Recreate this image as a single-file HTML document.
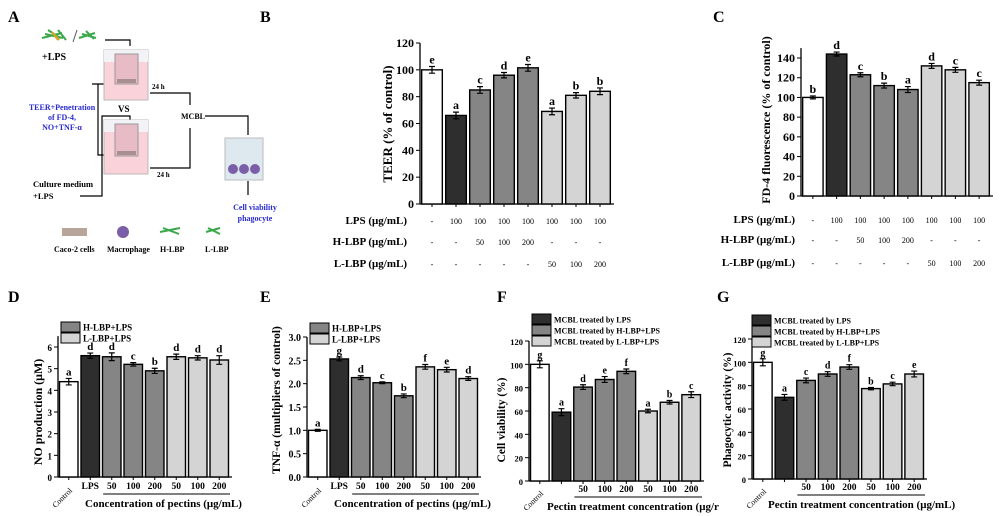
<!DOCTYPE html>
<html><head><meta charset="utf-8">
<style>
html,body{margin:0;padding:0;background:#fff;}
svg{display:block;font-family:"Liberation Serif",serif;font-weight:bold;}
</style></head>
<body>
<svg id="fig" width="1000" height="516" viewBox="0 0 1000 516" xmlns="http://www.w3.org/2000/svg">
<g>
<text x="8" y="22" font-size="16">A</text>
<g stroke-width="2" fill="none">
<path d="M42 38 l20 -5 M45 34 l18 4 M48 30 l12 8 M58 30 l8 10" stroke="#3aa84a"/>
<path d="M52 32 l6 8 M55 35 l4 5" stroke="#d9a62a"/>
<path d="M79 38 l16 -5 M82 34 l14 4 M86 31 l8 8" stroke="#3aa84a"/>
<line x1="73" y1="42" x2="77" y2="30" stroke="#555" stroke-width="1"/>
</g>
<text x="42" y="60" font-size="10">+LPS</text>
<g stroke="#000" stroke-width="1.2" fill="none">
<path d="M105 40 H130 V46"/><path d="M150 93 H190 V105"/><path d="M150 168 H190 V128"/>
<path d="M98 84 V155 H117 M98 84 H117 M98 84 H92"/>
<path d="M80 196 H102 V116 H130 V122"/>
<path d="M205 116 H248 V135"/><path d="M248 181 V195"/>
</g>
<g>
<rect x="104" y="50" width="44" height="50" fill="#f9d2da" stroke="#bbb"/>
<rect x="104" y="50" width="44" height="12" fill="#f3f3f7"/>
<rect x="115" y="54" width="23" height="30" fill="#e8bcc6" stroke="#999"/>
<rect x="117" y="79" width="19" height="4" fill="#a89090"/>
</g>
<text x="118" y="112" font-size="9">VS</text>
<g>
<rect x="104" y="120" width="44" height="54" fill="#f9d2da" stroke="#bbb"/>
<rect x="104" y="120" width="44" height="12" fill="#f3f3f7"/>
<rect x="115" y="124" width="23" height="32" fill="#e8bcc6" stroke="#999"/>
<rect x="117" y="151" width="19" height="4" fill="#a89090"/>
</g>
<text x="152" y="89" font-size="7">24 h</text>
<text x="157" y="177" font-size="7">24 h</text>
<text x="181" y="119" font-size="8">MCBL</text>
<g>
<rect x="225" y="138" width="38" height="42" fill="#dde8ef" stroke="#bbb"/>
<circle cx="233" cy="169" r="5" fill="#7a5ea8"/><circle cx="244" cy="169" r="5" fill="#7a5ea8"/><circle cx="255" cy="169" r="5" fill="#7a5ea8"/>
</g>
<g fill="#2a2ad0" font-size="8" text-anchor="middle">
<text x="62" y="110">TEER+Penetration</text><text x="62" y="120">of FD-4,</text><text x="62" y="130">NO+TNF-α</text>
<text x="255" y="210">Cell viability</text><text x="255" y="221">phagocyte</text>
</g>
<text x="33" y="187" font-size="8.5">Culture medium</text><text x="33" y="199" font-size="8.5">+LPS</text>
<g font-size="8">
<rect x="62" y="228" width="25" height="8" fill="#b8a59a"/><text x="54" y="252">Caco-2 cells</text>
<circle cx="123" cy="232" r="6" fill="#7a5ea8"/><text x="107" y="252">Macrophage</text>
<path d="M160 232 l20 -4 M163 228 l16 6" stroke="#3aa84a" stroke-width="2"/><text x="160" y="252">H-LBP</text>
<path d="M206 232 l14 -4 M208 228 l12 6" stroke="#3aa84a" stroke-width="2"/><text x="205" y="252">L-LBP</text>
</g>
</g>
<g id="charts"></g>
</svg>
<script>
// ---- data ----
const bValues=[100,66,85,96,101.5,69,81,84];
const bErr=[2.5,2.5,2.5,2,2.5,2.5,2,2.5];
const bLetters=['e','a','c','d','e','a','b','b'];
const cValues=[100,144,123,112,108,132,128,115];
const cErr=[1.5,2,2,2.5,3,2.5,2.5,2.5];
const cLetters=['b','d','c','b','a','d','c','c'];
const lpsRow=['-','100','100','100','100','100','100','100'];
const hlbpRow=['-','-','50','100','200','-','-','-'];
const llbpRow=['-','-','-','-','-','50','100','200'];
const dValues=[4.4,5.6,5.55,5.2,4.9,5.55,5.5,5.4];
const dErr=[0.15,0.12,0.18,0.08,0.12,0.12,0.1,0.2];
const dLetters=['a','d','d','c','b','d','d','d'];
const eValues=[1.0,2.53,2.13,2.02,1.74,2.36,2.3,2.11];
const eErr=[0.02,0.04,0.04,0.02,0.04,0.05,0.05,0.04];
const eLetters=['a','g','d','c','b','f','e','d'];
const deCats=['Control','LPS','50','100','200','50','100','200'];
const fValues=[100,59,80.5,87,94,60,67.5,74];
const fErr=[3,3,2,2.5,2,1.5,1.5,2.5];
const fLetters=['g','a','d','e','f','a','b','c'];
const gValues=[100,70,84.5,90,96,77.5,81.5,90];
const gErr=[3,2.5,2,2,2,1,1.5,2.5];
const gLetters=['g','a','c','d','f','b','c','e'];
const fgCats=['Control','','50','100','200','50','100','200'];
const bTicks=[0,20,40,60,80,100,120];
const cTicks=[0,20,40,60,80,100,120,140];
const dTicks=[0,1,2,3,4,5,6];
const eTicks=[0,0.5,1.0,1.5,2.0,2.5,3.0];
const fgTicks=[0,20,40,60,80,100,120];

const fills=['#ffffff','#2e2e2e','#858585','#858585','#858585','#d4d4d4','#d4d4d4','#d4d4d4'];
const NS='http://www.w3.org/2000/svg';
const root=document.getElementById('charts');
function mk(tag,attrs,parent,text){const e=document.createElementNS(NS,tag);for(const k in attrs)e.setAttribute(k,attrs[k]);if(text!==undefined)e.textContent=text;(parent||root).appendChild(e);return e;}

function chart(p){
  const g=mk('g',{});
  
  
  const band=(p.x1-p.x0)/p.values.length;
  const xs=i=>p.x0+band*(i+0.5);
  const ys=v=>p.y0-(v-0)/(p.vRef)*(p.y0-p.yRef);
  const lab=mk('text',{x:p.lx,y:p.ly,'font-size':16},g,p.label);
  
  
  const top=ys(p.axisMax);
  mk('line',{x1:p.x0,y1:top,x2:p.x0,y2:p.y0,stroke:'#000','stroke-width':1.3},g);
  mk('line',{x1:p.x0,y1:p.y0,x2:p.x1+2,y2:p.y0,stroke:'#000','stroke-width':1.3},g);
  p.ticks.forEach(t=>{
    const y=ys(t);
    mk('line',{x1:p.x0-4,y1:y,x2:p.x0,y2:y,stroke:'#000'},g);
    const tt=mk('text',{x:p.x0-6,y:y+4,'font-size':p.tfs,'text-anchor':'end'},g,p.fmt?t.toFixed(1):String(t));
    
    
  });
  const yt=mk('text',{transform:`translate(${p.ytx},${p.yty}) rotate(-90)`,'font-size':p.ytfs,'text-anchor':'middle'},g,p.ytitle);
  
  
  const bw=band*0.86;
  p.values.forEach((v,i)=>{
    const r=mk('rect',{x:xs(i)-bw/2,y:ys(v),width:bw,height:p.y0-ys(v),fill:fills[i],stroke:'#000','stroke-width':1.4},g);
    
    
    const e=p.err[i],yh=ys(v+e),yl=ys(v-e);
    mk('path',{d:`M${xs(i)} ${yh}V${yl}M${xs(i)-3} ${yh}H${xs(i)+3}M${xs(i)-3} ${yl}H${xs(i)+3}`,stroke:'#000','stroke-width':1.2,fill:'none'},g);
    const l=mk('text',{x:xs(i),y:yh-3,'font-size':p.lfs,'text-anchor':'middle'},g,p.letters[i]);
    
    
    mk('line',{x1:xs(i),y1:p.y0,x2:xs(i),y2:p.y0+3,stroke:'#000'},g);
  });
  if(p.rows){
    p.rows.forEach((row,r)=>{
      const y=p.rowY[r];
      const t=mk('text',{x:p.rowLabelX,y:y,'font-size':11,'text-anchor':'end'},g,p.rowNames[r]);
      
      
      row.forEach((s,i)=>{mk('text',{x:xs(i),y:y,'font-size':8,'font-weight':'normal','text-anchor':'middle'},g,s);});
    });
  }
  if(p.cats){
    p.cats.forEach((c,i)=>{
      if(i===0){mk('text',{transform:`translate(${xs(i)+4},${p.catY+2}) rotate(-45)`,'font-size':8,'font-weight':'normal','text-anchor':'end'},g,c);}
      else mk('text',{x:xs(i),y:p.catY,'font-size':9.5,'text-anchor':'middle'},g,c);
    });
    mk('line',{x1:xs(p.lineFrom)-band*0.4,y1:p.catY+5,x2:p.x1,y2:p.catY+5,stroke:'#000'},g);
    const xt=mk('text',{x:p.xtX,y:p.catY+18,'font-size':11},g,p.xtitle);
    
    
  }
  if(p.legend){
    p.legend.forEach((L,k)=>{
      const y=p.legY+k*p.legStep;
      const lg=mk('g',{},g);
      
      
      mk('rect',{x:p.legX,y:y,width:19,height:p.legStep-1,fill:L[0],stroke:'#000'},lg);
      mk('text',{x:p.legX+22,y:y+p.legStep-2.5,'font-size':p.legfs},lg,L[1]);
    });
  }
}
const rowNames=['LPS (μg/mL)','H-LBP (μg/mL)','L-LBP (μg/mL)'];
chart({name:'panel-b-teer-chart',label:'B',lx:260,ly:22,values:bValues,err:bErr,letters:bLetters,x0:420,x1:612,y0:204,vRef:120,yRef:43,axisMax:120,ticks:bTicks,tfs:12,ytitle:'TEER (% of control)',ytx:392,yty:124,ytfs:13,lfs:12,rows:[lpsRow,hlbpRow,llbpRow],rowY:[224,245,267],rowLabelX:407,rowNames});
chart({name:'panel-c-fd4-chart',label:'C',lx:713,ly:22,values:cValues,err:cErr,letters:cLetters,x0:801,x1:991,y0:196,vRef:140,yRef:58,axisMax:150,ticks:cTicks,tfs:12,ytitle:'FD-4 fluorescence (% of control)',ytx:770,yty:120,ytfs:12,lfs:12,rows:[lpsRow,hlbpRow,llbpRow],rowY:[223,243,266],rowLabelX:795,rowNames});
chart({name:'panel-d-no-chart',label:'D',lx:8,ly:302,values:dValues,err:dErr,letters:dLetters,x0:58,x1:230,y0:477,vRef:6,yRef:347,axisMax:6.5,ticks:dTicks,tfs:9,ytitle:'NO production (μM)',ytx:42,yty:412,ytfs:12,lfs:11,cats:deCats,catY:489,lineFrom:2,xtX:85,xtitle:'Concentration of pectins (μg/mL)',legend:[['#858585','H-LBP+LPS'],['#d4d4d4','L-LBP+LPS']],legX:61,legY:322,legStep:11,legfs:9});
chart({name:'panel-e-tnf-chart',label:'E',lx:260,ly:302,values:eValues,err:eErr,letters:eLetters,x0:307,x1:479,y0:477,vRef:3,yRef:337,axisMax:3,ticks:eTicks,tfs:10,fmt:true,ytitle:'TNF-α (multipliers of control)',ytx:280,yty:400,ytfs:11.5,lfs:11,cats:deCats,catY:489,lineFrom:2,xtX:334,xtitle:'Concentration of pectins (μg/mL)',legend:[['#858585','H-LBP+LPS'],['#d4d4d4','L-LBP+LPS']],legX:310,legY:323,legStep:11,legfs:9});
chart({name:'panel-f-viability-chart',label:'F',lx:497,ly:302,values:fValues,err:fErr,letters:fLetters,x0:529,x1:702,y0:481,vRef:120,yRef:341,axisMax:120,ticks:fgTicks,tfs:8.5,ytitle:'Cell viability (%)',ytx:505,yty:420,ytfs:11.5,lfs:10,cats:fgCats,catY:492,lineFrom:2,xtX:547,xtitle:'Pectin treatment concentration (μg/r',legend:[['#2e2e2e','MCBL treated by LPS'],['#858585','MCBL treated by H-LBP+LPS'],['#d4d4d4','MCBL treated by L-LBP+LPS']],legX:532,legY:314,legStep:11,legfs:8});
chart({name:'panel-g-phagocytic-chart',label:'G',lx:717,ly:302,values:gValues,err:gErr,letters:gLetters,x0:752,x1:925,y0:479,vRef:120,yRef:339,axisMax:120,ticks:fgTicks,tfs:8.5,ytitle:'Phagocytic activity (%)',ytx:731,yty:410,ytfs:11.5,lfs:10,cats:fgCats,catY:490,lineFrom:2,xtX:768,xtitle:'Pectin treatment concentration (μg/mL)',legend:[['#2e2e2e','MCBL treated by LPS'],['#858585','MCBL treated by H-LBP+LPS'],['#d4d4d4','MCBL treated by L-LBP+LPS']],legX:752,legY:315,legStep:11,legfs:8});
</script>
</body></html>
